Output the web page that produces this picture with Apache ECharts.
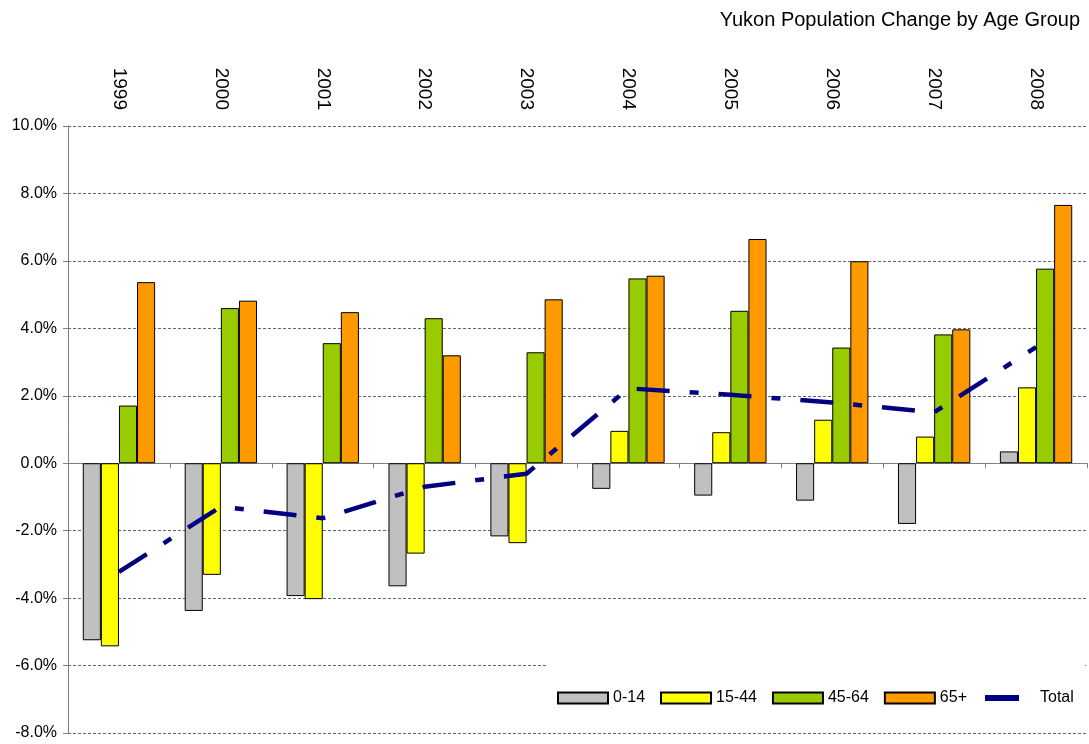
<!DOCTYPE html>
<html>
<head>
<meta charset="utf-8">
<script src="https://cdn.jsdelivr.net/npm/echarts@6/dist/echarts.min.js"></script>
<style>
  html, body { margin: 0; padding: 0; background: #fff; }
  #chart { width: 1089px; height: 744px; }
</style>
</head>
<body>
<div id="chart"></div>
<script>
// Yukon population change by age group, percent change per year
const years = ['1999', '2000', '2001', '2002', '2003', '2004', '2005', '2006', '2007', '2008'];
const age0to14 = [-5.25, -4.38, -3.94, -3.65, -2.17, -0.76, -0.96, -1.11, -1.80, 0.35];
const age15to44 = [-5.43, -3.31, -4.03, -2.68, -2.37, 0.96, 0.92, 1.29, 0.79, 2.25];
const age45to64 = [1.71, 4.60, 3.56, 4.30, 3.29, 5.48, 4.52, 3.43, 3.82, 5.77];
const age65plus = [5.37, 4.82, 4.48, 3.20, 4.86, 5.56, 6.65, 5.99, 3.97, 7.66];
const totalChange = [-3.22, -1.29, -1.63, -0.70, -0.31, 2.22, 2.03, 1.80, 1.51, 3.44];

const FONT = '"Liberation Sans", Arial, sans-serif';
const chart = echarts.init(document.getElementById('chart'), null, { renderer: 'canvas' });

function barSeries(name, data, color) {
  return {
    name: name,
    type: 'bar',
    data: data,
    barGap: '0%',
    barCategoryGap: '29%',
    itemStyle: { color: color, borderColor: '#000', borderWidth: 1 },
    emphasis: { disabled: true }
  };
}

chart.setOption({
  animation: false,
  backgroundColor: '#fff',
  textStyle: { fontFamily: FONT },
  title: {
    text: 'Yukon Population Change by Age Group',
    right: 4,
    top: 5,
    textStyle: { fontFamily: FONT, fontSize: 20, fontWeight: 'normal', color: '#000' }
  },
  grid: { left: 68, right: 2, top: 126, bottom: 11, containLabel: false },
  graphic: [{
    type: 'rect',
    z: 3,
    shape: { x: 548, y: 656, width: 537, height: 70 },
    style: { fill: '#fff' }
  }],
  legend: [{
    data: ['0-14', '15-44', '45-64', '65+'],
    left: 557,
    top: 690,
    padding: 0,
    itemWidth: 50,
    itemHeight: 11,
    itemGap: 15,
    icon: 'rect',
    textStyle: { fontFamily: FONT, fontSize: 16, color: '#000' }
  }, {
    data: [{ name: 'Total', icon: 'rect' }],
    left: 985,
    top: 690,
    padding: 0,
    itemWidth: 34,
    itemHeight: 6,
    textStyle: { fontFamily: FONT, fontSize: 16, color: '#000', padding: [0, 0, 0, 16] }
  }],
  xAxis: [{
    type: 'category',
    data: years,
    position: 'bottom',
    axisLine: { onZero: true, lineStyle: { color: '#808080', width: 1 } },
    axisTick: { show: true, length: 5, lineStyle: { color: '#808080' } },
    axisLabel: { show: false },
    splitLine: { show: false }
  }, {
    type: 'category',
    data: years,
    position: 'top',
    axisLine: { show: false },
    axisTick: { show: false },
    axisLabel: {
      rotate: 90,
      margin: 16,
      fontFamily: FONT,
      fontSize: 19,
      color: '#000'
    },
    splitLine: { show: false }
  }],
  yAxis: {
    type: 'value',
    min: -8,
    max: 10,
    interval: 2,
    axisLine: { show: true, lineStyle: { color: '#808080', width: 1 } },
    axisTick: { show: true, length: 5, lineStyle: { color: '#808080' } },
    axisLabel: {
      formatter: v => v.toFixed(1) + '%',
      margin: 11,
      fontFamily: FONT,
      fontSize: 16,
      color: '#000'
    },
    splitLine: { show: true, lineStyle: { color: '#666', width: 1, type: [3, 2] } }
  },
  series: [
    barSeries('0-14', age0to14, '#C0C0C0'),
    barSeries('15-44', age15to44, '#FFFF00'),
    barSeries('45-64', age45to64, '#99CC00'),
    barSeries('65+', age65plus, '#FF9900'),
    {
      name: 'Total',
      type: 'line',
      data: totalChange,
      symbol: 'none',
      smooth: false,
      itemStyle: { color: '#000080' },
      lineStyle: { color: '#000080', width: 4.5, type: [33, 20, 9, 20], cap: 'butt' },
      emphasis: { disabled: true },
      z: 3
    }
  ]
});
</script>
</body>
</html>
